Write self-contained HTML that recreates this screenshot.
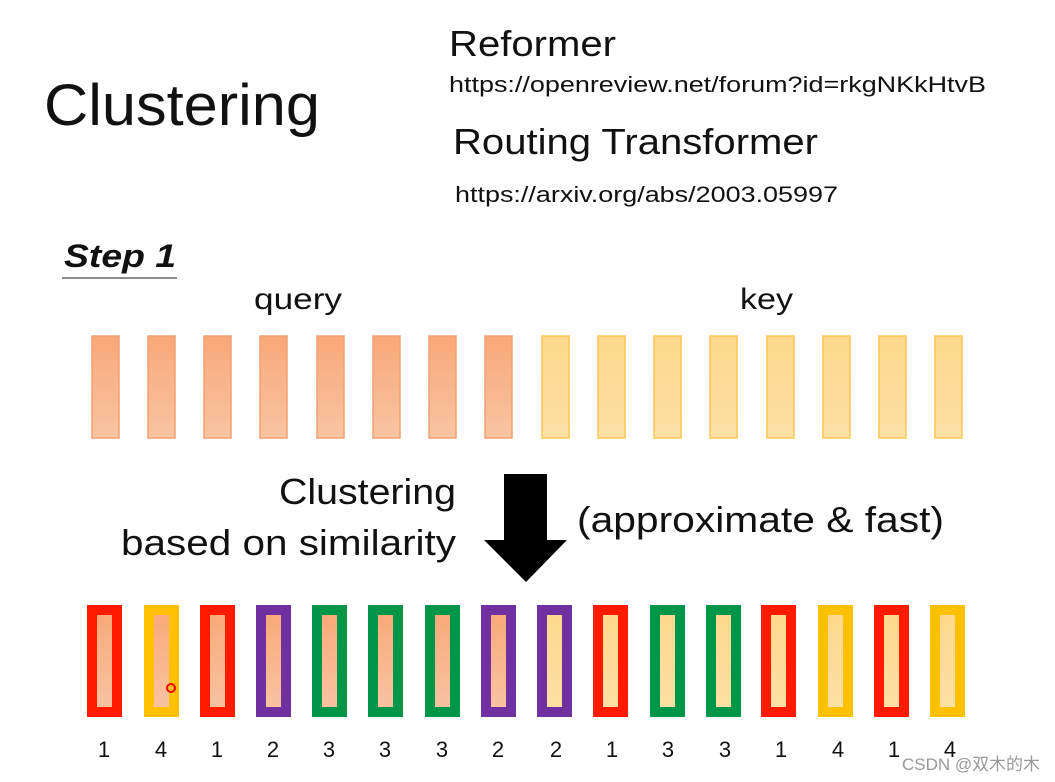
<!DOCTYPE html>
<html><head><meta charset="utf-8"><style>
html,body{margin:0;padding:0;background:#fff;}
svg{display:block;}
text{font-family:"Liberation Sans",sans-serif;fill:#111;}
</style></head><body>
<svg width="1055" height="782" viewBox="0 0 1055 782" xmlns="http://www.w3.org/2000/svg">
<defs>
<linearGradient id="q" x1="0" y1="0" x2="0" y2="1"><stop offset="0" stop-color="#f8a878"/><stop offset="1" stop-color="#f9c4a2"/></linearGradient>
<linearGradient id="k" x1="0" y1="0" x2="0" y2="1"><stop offset="0" stop-color="#fdd88c"/><stop offset="1" stop-color="#fde0a6"/></linearGradient>
</defs>
<text x="44" y="125" font-size="58" textLength="276" lengthAdjust="spacingAndGlyphs">Clustering</text>
<text x="449" y="56" font-size="36" textLength="167" lengthAdjust="spacingAndGlyphs">Reformer</text>
<text x="449" y="92" font-size="22" textLength="537" lengthAdjust="spacingAndGlyphs">https://openreview.net/forum?id=rkgNKkHtvB</text>
<text x="453" y="154" font-size="36" textLength="365" lengthAdjust="spacingAndGlyphs">Routing Transformer</text>
<text x="455" y="202" font-size="22" textLength="383" lengthAdjust="spacingAndGlyphs">https://arxiv.org/abs/2003.05997</text>
<text x="64" y="267" font-size="32" font-weight="bold" font-style="italic" textLength="112" lengthAdjust="spacingAndGlyphs">Step 1</text>
<line x1="62" y1="278" x2="177" y2="278" stroke="#666" stroke-width="1.5"/>
<text x="254" y="309" font-size="30" textLength="88" lengthAdjust="spacingAndGlyphs">query</text>
<text x="740" y="309" font-size="30" textLength="53" lengthAdjust="spacingAndGlyphs">key</text>
<g id="top"></g>
<text x="279" y="504" font-size="36" textLength="177" lengthAdjust="spacingAndGlyphs">Clustering</text>
<text x="121" y="555" font-size="36" textLength="335" lengthAdjust="spacingAndGlyphs">based on similarity</text>
<text x="577" y="532" font-size="36" textLength="367" lengthAdjust="spacingAndGlyphs">(approximate &amp; fast)</text>
<polygon points="504,474 547,474 547,540 567,540 526,582 484,540 504,540" fill="#000"/>
<!-- top bars -->
<g stroke-width="1.5">
<rect x="92" y="336" width="27" height="102" fill="url(#q)" stroke="#f2a070"/>
<rect x="148" y="336" width="27" height="102" fill="url(#q)" stroke="#f2a070"/>
<rect x="204" y="336" width="27" height="102" fill="url(#q)" stroke="#f2a070"/>
<rect x="260" y="336" width="27" height="102" fill="url(#q)" stroke="#f2a070"/>
<rect x="317" y="336" width="27" height="102" fill="url(#q)" stroke="#f2a070"/>
<rect x="373" y="336" width="27" height="102" fill="url(#q)" stroke="#f2a070"/>
<rect x="429" y="336" width="27" height="102" fill="url(#q)" stroke="#f2a070"/>
<rect x="485" y="336" width="27" height="102" fill="url(#q)" stroke="#f2a070"/>
<rect x="542" y="336" width="27" height="102" fill="url(#k)" stroke="#fcc650"/>
<rect x="598" y="336" width="27" height="102" fill="url(#k)" stroke="#fcc650"/>
<rect x="654" y="336" width="27" height="102" fill="url(#k)" stroke="#fcc650"/>
<rect x="710" y="336" width="27" height="102" fill="url(#k)" stroke="#fcc650"/>
<rect x="767" y="336" width="27" height="102" fill="url(#k)" stroke="#fcc650"/>
<rect x="823" y="336" width="27" height="102" fill="url(#k)" stroke="#fcc650"/>
<rect x="879" y="336" width="27" height="102" fill="url(#k)" stroke="#fcc650"/>
<rect x="935" y="336" width="27" height="102" fill="url(#k)" stroke="#fcc650"/>
</g>
<!-- bottom bars: outer 35x112, border 10 -->
<g stroke-width="10">
<rect x="92" y="610" width="25" height="102" fill="url(#q)" stroke="#ff1a00"/>
<rect x="149" y="610" width="25" height="102" fill="url(#q)" stroke="#ffc000"/>
<rect x="205" y="610" width="25" height="102" fill="url(#q)" stroke="#ff1a00"/>
<rect x="261" y="610" width="25" height="102" fill="url(#q)" stroke="#7030a0"/>
<rect x="317" y="610" width="25" height="102" fill="url(#q)" stroke="#00964a"/>
<rect x="373" y="610" width="25" height="102" fill="url(#q)" stroke="#00964a"/>
<rect x="430" y="610" width="25" height="102" fill="url(#q)" stroke="#00964a"/>
<rect x="486" y="610" width="25" height="102" fill="url(#q)" stroke="#7030a0"/>
<rect x="542" y="610" width="25" height="102" fill="url(#k)" stroke="#7030a0"/>
<rect x="598" y="610" width="25" height="102" fill="url(#k)" stroke="#ff1a00"/>
<rect x="655" y="610" width="25" height="102" fill="url(#k)" stroke="#00964a"/>
<rect x="711" y="610" width="25" height="102" fill="url(#k)" stroke="#00964a"/>
<rect x="766" y="610" width="25" height="102" fill="url(#k)" stroke="#ff1a00"/>
<rect x="823" y="610" width="25" height="102" fill="url(#k)" stroke="#ffc000"/>
<rect x="879" y="610" width="25" height="102" fill="url(#k)" stroke="#ff1a00"/>
<rect x="935" y="610" width="25" height="102" fill="url(#k)" stroke="#ffc000"/>
</g>
<circle cx="171" cy="688" r="4" fill="none" stroke="#e00" stroke-width="2"/>
<g font-size="22" text-anchor="middle">
<text x="104" y="757">1</text><text x="161" y="757">4</text><text x="217" y="757">1</text><text x="273" y="757">2</text>
<text x="329" y="757">3</text><text x="385" y="757">3</text><text x="442" y="757">3</text><text x="498" y="757">2</text>
<text x="556" y="757">2</text><text x="612" y="757">1</text><text x="668" y="757">3</text><text x="725" y="757">3</text>
<text x="781" y="757">1</text><text x="838" y="757">4</text><text x="894" y="757">1</text><text x="950" y="757">4</text>
</g>
<text x="902" y="770" font-size="17" style="fill:#999;font-family:'Liberation Sans','Noto Sans CJK SC',sans-serif" textLength="138" lengthAdjust="spacingAndGlyphs">CSDN @双木的木</text>
</svg>
</body></html>
